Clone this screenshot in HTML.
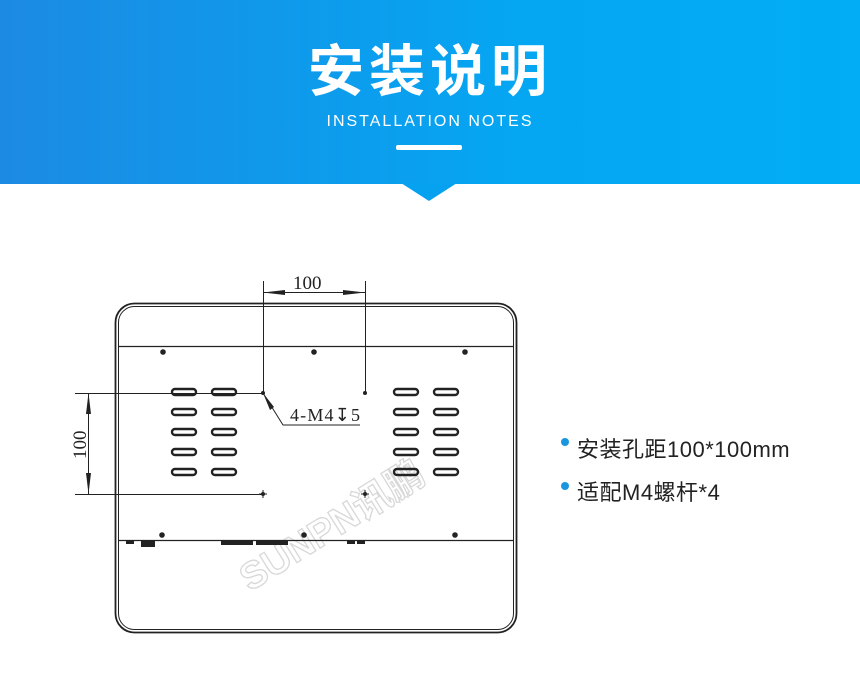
<!DOCTYPE html>
<html><head><meta charset="utf-8"><style>
body{margin:0;width:860px;height:674px;background:#fff;overflow:hidden;position:relative;font-family:"Liberation Sans","Noto Sans CJK SC",sans-serif}
.hd{position:absolute;left:0;top:0;width:860px;height:184px;background:linear-gradient(90deg,#1c8ae3,#05a6f2 60%,#02adf5)}
.tri{position:absolute;left:401px;top:183px;width:0;height:0;border-left:28px solid transparent;border-right:28px solid transparent;border-top:18px solid #07a2ef}
.t1{position:absolute;left:0;width:860px;top:33px;text-align:center;color:#fff;font-size:56px;font-weight:bold;letter-spacing:5px;font-family:"Noto Sans CJK SC",sans-serif;line-height:70px}
.t2{position:absolute;left:0;width:860px;top:113px;text-align:center;color:#fff;font-size:16px;letter-spacing:2px}
.bar{position:absolute;left:396px;top:145px;width:66px;height:5px;background:#fff;border-radius:2px}
.b{position:absolute;left:577px;font-size:22px;color:#222;font-family:"Liberation Sans","Noto Sans CJK SC",sans-serif;letter-spacing:0.5px}
.dot{position:absolute;left:561px;width:8px;height:8px;border-radius:50%;background:#1a95e0}
</style></head><body>
<div class="hd"></div><div class="tri"></div>
<div class="t1">安装说明</div>
<div class="t2">INSTALLATION NOTES</div>
<div class="bar"></div>
<svg width="860" height="674" style="position:absolute;left:0;top:0" font-family="Liberation Serif,serif">
<text transform="translate(250,592) rotate(-32)" font-size="38" font-weight="bold" fill="none" stroke="#d8d8d8" stroke-width="1.3" font-family="Liberation Sans,sans-serif">SUNPN<tspan font-family="Noto Sans CJK SC,sans-serif">讯鹏</tspan></text>
<g fill="none" stroke="#222">
<rect x="115.5" y="303.5" width="401" height="329" rx="19" stroke-width="1.8"/>
<rect x="118.5" y="306.5" width="395" height="323" rx="16" stroke-width="1"/>
<line x1="119" y1="346.5" x2="513" y2="346.5" stroke-width="1.2"/>
<line x1="119" y1="540.5" x2="513" y2="540.5" stroke-width="1.2"/>
</g>
<g fill="none" stroke="#222" stroke-width="2.4">
<rect x="172" y="389" width="24" height="6" rx="3"/><rect x="212" y="389" width="24" height="6" rx="3"/>
<rect x="172" y="409" width="24" height="6" rx="3"/><rect x="212" y="409" width="24" height="6" rx="3"/>
<rect x="172" y="429" width="24" height="6" rx="3"/><rect x="212" y="429" width="24" height="6" rx="3"/>
<rect x="172" y="449" width="24" height="6" rx="3"/><rect x="212" y="449" width="24" height="6" rx="3"/>
<rect x="172" y="469" width="24" height="6" rx="3"/><rect x="212" y="469" width="24" height="6" rx="3"/>
<rect x="394" y="389" width="24" height="6" rx="3"/><rect x="434" y="389" width="24" height="6" rx="3"/>
<rect x="394" y="409" width="24" height="6" rx="3"/><rect x="434" y="409" width="24" height="6" rx="3"/>
<rect x="394" y="429" width="24" height="6" rx="3"/><rect x="434" y="429" width="24" height="6" rx="3"/>
<rect x="394" y="449" width="24" height="6" rx="3"/><rect x="434" y="449" width="24" height="6" rx="3"/>
<rect x="394" y="469" width="24" height="6" rx="3"/><rect x="434" y="469" width="24" height="6" rx="3"/>
</g>
<g fill="#222">
<circle cx="163" cy="352" r="2.8"/><circle cx="314" cy="352" r="2.8"/><circle cx="465" cy="352" r="2.8"/>
<circle cx="162" cy="535" r="2.8"/><circle cx="304" cy="535" r="2.8"/><circle cx="455" cy="535" r="2.8"/>
<circle cx="263" cy="393" r="2"/><circle cx="365" cy="393" r="2"/><circle cx="263" cy="494" r="2"/><circle cx="365" cy="494" r="2"/>
<rect x="141" y="541" width="14" height="6"/>
<rect x="221" y="541" width="32" height="4"/><rect x="256" y="541" width="32" height="4"/>
<rect x="347" y="541" width="8" height="3"/><rect x="357" y="541" width="8" height="3"/>
<rect x="126" y="541" width="8" height="3"/>
</g>
<g stroke="#222" stroke-width="1" fill="none">
<line x1="263.5" y1="281" x2="263.5" y2="393"/><line x1="365.5" y1="281" x2="365.5" y2="393"/>
<line x1="263" y1="292.5" x2="365" y2="292.5"/>
<line x1="75" y1="393.5" x2="263" y2="393.5"/><line x1="75" y1="494.5" x2="263" y2="494.5"/>
<line x1="88.5" y1="393" x2="88.5" y2="494"/>
<polyline points="263,393 283,425 360,425"/>
<line x1="259" y1="494" x2="267" y2="494"/><line x1="263" y1="490" x2="263" y2="498"/>
<line x1="361" y1="494" x2="369" y2="494"/><line x1="365" y1="490" x2="365" y2="498"/>
</g>
<g fill="#222">
<polygon points="263,292.5 285,290 285,295"/><polygon points="365,292.5 343,290 343,295"/>
<polygon points="88.5,393 86,414 91,414"/><polygon points="88.5,494 86,473 91,473"/>
<polygon points="263,393 270,410 274,407"/>
</g>
<text x="293" y="289" font-size="19" fill="#222">100</text>
<text x="290" y="421" font-size="18" fill="#222" textLength="70">4-M4↧5</text>
<text transform="translate(86,459) rotate(-90)" font-size="19" fill="#222">100</text>
</svg>
<div class="dot" style="top:438px"></div><div class="b" style="top:432px">安装孔距100*100mm</div>
<div class="dot" style="top:482px"></div><div class="b" style="top:475px">适配M4螺杆*4</div>
</body></html>
